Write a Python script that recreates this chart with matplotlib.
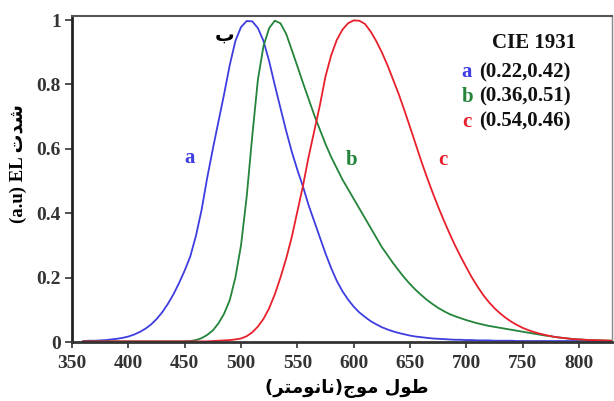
import matplotlib
matplotlib.use("Agg")
import matplotlib.pyplot as plt
import numpy as np

# wavelength grid (nm), 5 nm steps
wavelength = np.arange(360, 835, 5)

# EL intensity
curve_a = [0.003, 0.004, 0.004, 0.005, 0.006, 0.008, 0.010, 0.013, 0.017, 0.023,
           0.031, 0.041, 0.054, 0.071, 0.092, 0.118, 0.148, 0.183, 0.222, 0.266,
           0.330, 0.410, 0.510, 0.600, 0.685, 0.770, 0.860, 0.935, 0.978, 0.997,
           0.996, 0.975, 0.935, 0.872, 0.798, 0.727, 0.657, 0.592, 0.535, 0.483,
           0.425, 0.375, 0.325, 0.275, 0.230, 0.190, 0.158, 0.132, 0.110, 0.092,
           0.078, 0.065, 0.055, 0.046, 0.039, 0.033, 0.028, 0.024, 0.020, 0.017,
           0.015, 0.013, 0.011, 0.010, 0.009, 0.008, 0.007, 0.007, 0.006, 0.006,
           0.005, 0.005, 0.005, 0.004, 0.004, 0.004, 0.004, 0.003, 0.003, 0.003,
           0.003, 0.003, 0.003, 0.003, 0.003, 0.003, 0.003, 0.003, 0.003, 0.003,
           0.003, 0.003, 0.003, 0.003, 0.003]

curve_b = [0.002, 0.002, 0.002, 0.002, 0.002, 0.002, 0.002, 0.002, 0.002, 0.002,
           0.002, 0.002, 0.002, 0.002, 0.002, 0.002, 0.002, 0.002, 0.002, 0.003,
           0.006, 0.012, 0.022, 0.036, 0.058, 0.088, 0.130, 0.200, 0.300, 0.450,
           0.640, 0.815, 0.920, 0.975, 0.998, 0.990, 0.958, 0.908, 0.857, 0.805,
           0.755, 0.705, 0.660, 0.615, 0.575, 0.540, 0.505, 0.475, 0.445, 0.415,
           0.385, 0.355, 0.325, 0.295, 0.270, 0.245, 0.222, 0.200, 0.180, 0.162,
           0.146, 0.131, 0.118, 0.106, 0.096, 0.087, 0.080, 0.074, 0.068, 0.063,
           0.058, 0.054, 0.050, 0.047, 0.044, 0.041, 0.038, 0.035, 0.032, 0.029,
           0.026, 0.023, 0.020, 0.018, 0.015, 0.013, 0.011, 0.009, 0.008, 0.007,
           0.006, 0.005, 0.005, 0.004, 0.004]

curve_c = [0.002, 0.002, 0.002, 0.002, 0.002, 0.002, 0.002, 0.002, 0.002, 0.002,
           0.002, 0.002, 0.002, 0.002, 0.002, 0.002, 0.002, 0.002, 0.002, 0.002,
           0.002, 0.002, 0.002, 0.003, 0.004, 0.005, 0.006, 0.008, 0.011, 0.018,
           0.030, 0.048, 0.072, 0.105, 0.148, 0.200, 0.258, 0.325, 0.405, 0.485,
           0.575, 0.655, 0.735, 0.825, 0.890, 0.938, 0.970, 0.990, 0.999, 0.998,
           0.988, 0.965, 0.935, 0.900, 0.860, 0.815, 0.770, 0.720, 0.668, 0.615,
           0.562, 0.512, 0.465, 0.420, 0.378, 0.338, 0.300, 0.265, 0.232, 0.200,
           0.172, 0.146, 0.124, 0.105, 0.089, 0.075, 0.063, 0.053, 0.044, 0.037,
           0.031, 0.026, 0.022, 0.018, 0.015, 0.013, 0.011, 0.009, 0.008, 0.007,
           0.006, 0.006, 0.005, 0.005, 0.004]

series_names = ['a', 'b', 'c']
cie_coords = ['(0.22,0.42)', '(0.36,0.51)', '(0.54,0.46)']
colors = ['#3d3de0', '#23843a', '#e8202c']

x_ticks = [350, 400, 450, 500, 550, 600, 650, 700, 750, 800]
y_ticks = [0, 0.2, 0.4, 0.6, 0.8, 1]
y_tick_labels = ['0', '0.2', '0.4', '0.6', '0.8', '1']

# Arabic text written in visual order with presentation forms (no shaping in matplotlib)
xlabel_text = '(\uFEAE\uFE98\uFEE3\uFEEE\uFEE7\uFE8E\uFEE7)\uFE9D\uFEEE\uFEE3 \uFEDD\uFEEE\uFEC3'
ylabel_text = '(a.u) EL \uFE95\uFEAA\uFEB7'
peak_mark = '\u0628'

serif = ['Liberation Serif', 'DejaVu Serif']
mixed = ['Liberation Serif', 'DejaVu Sans']

fig = plt.figure(figsize=(6.14, 4.01), dpi=100)
ax = fig.add_axes([0.1173, 0.1471, 0.8794, 0.8129])

curves = [curve_a, curve_b, curve_c]
for i in range(len(curves)):
    ax.plot(wavelength, curves[i], color=colors[i], lw=1.3,
            solid_joinstyle='round')

ax.set_xlim(350, 829.3)
ax.set_ylim(0, 1.0125)
ax.set_xticks(x_ticks)
ax.set_yticks(y_ticks)
ax.set_yticklabels(y_tick_labels)
for lab in ax.get_xticklabels() + ax.get_yticklabels():
    lab.set_family(serif)
    lab.set_fontweight('bold')
    lab.set_fontsize(14)
    lab.set_color('#222222')
ax.tick_params(axis='x', direction='out', length=4, width=1.2, pad=5, colors='#333333')
ax.tick_params(axis='y', direction='out', length=5, width=1.2, pad=3, colors='#333333')

ax.spines['left'].set_linewidth(2.0)
ax.spines['left'].set_color('#222222')
ax.spines['bottom'].set_linewidth(2.0)
ax.spines['bottom'].set_color('#333333')
ax.spines['top'].set_linewidth(1.5)
ax.spines['top'].set_color('#555555')
ax.spines['right'].set_linewidth(1.0)
ax.spines['right'].set_color('#888888')

# axis labels
ax.text(-0.1, 0.546, ylabel_text, transform=ax.transAxes, rotation=90,
        ha='center', va='center', fontsize=13.5, fontweight='bold', family=mixed)
ax.text(0.509, -0.144, xlabel_text, transform=ax.transAxes,
        ha='center', va='center', fontsize=13, fontweight='bold', family=['DejaVu Sans'])

# curve labels
label_pos = [(0.2185, 0.564), (0.5185, 0.558), (0.687, 0.558)]
for i in range(len(series_names)):
    ax.text(label_pos[i][0], label_pos[i][1], series_names[i], transform=ax.transAxes,
            color=colors[i], fontsize=15, fontweight='bold', family=serif,
            ha='center', va='center')

ax.text(0.283, 0.94, peak_mark, transform=ax.transAxes, ha='center', va='center',
        fontsize=14, fontweight='bold', family=['DejaVu Sans'], color='black')

# CIE legend block
ax.text(0.856, 0.917, 'CIE 1931', transform=ax.transAxes, ha='center', va='center',
        fontsize=15, fontweight='bold', family=serif, color='#111111')
rows_y = [0.828, 0.752, 0.675]
for i in range(len(series_names)):
    ax.text(0.722, rows_y[i], series_names[i], transform=ax.transAxes, ha='left',
            va='center', fontsize=15, fontweight='bold', family=serif, color=colors[i])
    ax.text(0.754, rows_y[i], cie_coords[i], transform=ax.transAxes, ha='left',
            va='center', fontsize=15, fontweight='bold', family=serif, color='#111111')

fig.savefig('out.png', dpi=100)
